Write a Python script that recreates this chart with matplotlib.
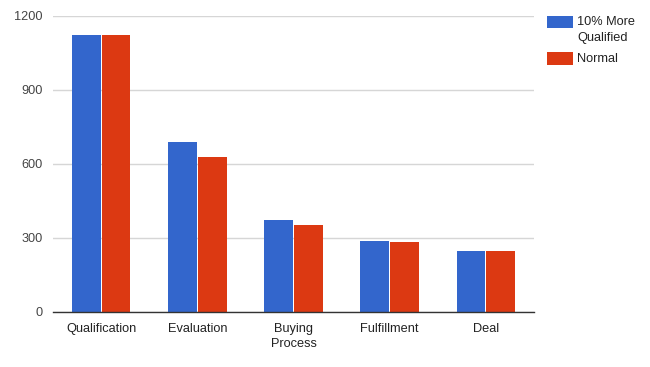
import matplotlib
matplotlib.use("Agg")
import matplotlib.pyplot as plt
from matplotlib.patches import Rectangle
import numpy as np

categories = ["Qualification", "Evaluation", "Buying\nProcess", "Fulfillment", "Deal"]
more_qualified = [1124, 688, 370, 286, 246]
normal = [1124, 626, 351, 281, 246]
series_labels = ["10% More\nQualified", "Normal"]
colors = ["#3366CC", "#DC3912"]
yticks = [0, 300, 600, 900, 1200]

plt.rcParams['font.family'] = ['Liberation Sans', 'DejaVu Sans']

W, H = 650, 367
fig = plt.figure(figsize=(6.5, 3.67), dpi=100)
ax = fig.add_axes([0.0815, 0.1507, 0.74, 0.8063])

x = np.arange(len(categories))
w = 0.30
b1 = ax.bar(x - w / 2 - 0.005, more_qualified, w, color=colors[0], label=series_labels[0], zorder=3)
b2 = ax.bar(x + w / 2 + 0.005, normal, w, color=colors[1], label=series_labels[1], zorder=3)

ax.set_xlim(-0.5, len(categories) - 0.5)
ax.set_ylim(0, 1200)
ax.set_yticks(yticks)
ax.set_xticks(x)
ax.set_xticklabels(categories, fontsize=9.2, color="#222222", linespacing=1.4)
ax.tick_params(axis='y', labelsize=9.2, labelcolor="#444444", length=0, pad=7.5)
ax.tick_params(axis='x', length=0, pad=8)
ax.grid(axis='y', color="#d6d6d6", linewidth=1, zorder=0)
for s in ["top", "right", "left"]:
    ax.spines[s].set_visible(False)
ax.spines["bottom"].set_color("#333333")
ax.spines["bottom"].set_linewidth(1)
ax.spines["bottom"].set_zorder(4)

# manual legend (pixel layout converted to figure fraction)
def fx(px):
    return px / W

def fy(py):
    return 1 - py / H

legend_boxes = [(15.7, 28.0), (52.3, 65.3)]
legend_text_y = [(22.0, 38.3), (59.0,)]
for i, lab in enumerate(series_labels):
    top, bot = legend_boxes[i]
    fig.patches.append(Rectangle((fx(547), fy(bot)), fx(573) - fx(547), fy(top) - fy(bot),
                                 transform=fig.transFigure, facecolor=colors[i],
                                 edgecolor="none", figure=fig))
    for line, ty in zip(lab.split("\n"), legend_text_y[i]):
        fig.text(fx(577), fy(ty), line, fontsize=9.2, color="#222222",
                 ha="left", va="center")

fig.savefig("out.png", dpi=100)
